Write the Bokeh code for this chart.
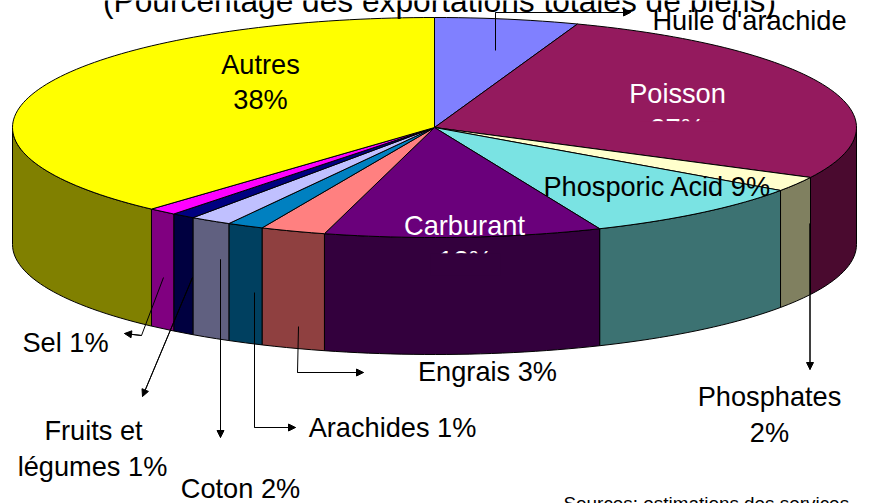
import numpy as np
from bokeh.embed import file_html
from bokeh.models import Arrow, NormalHead, Range1d
from bokeh.plotting import figure
from bokeh.resources import INLINE
from bokeh.core.properties import value

# Slices, clockwise from 12 o'clock
names = ["Huile d'arachide", "Poisson", "Phosphates", "Phosporic Acid", "Carburant",
         "Engrais", "Arachides", "Coton", "Fruits et légumes", "Sel", "Autres"]
shares = [5.5, 27.0, 2.2, 8.9, 10.6, 2.5, 1.4, 1.6, 0.9, 1.1, 38.3]
top_colors = ["#8080FF", "#941A5E", "#FFFFCC", "#7AE3E3", "#6A007B", "#FF8080",
              "#0080C0", "#C0C0FF", "#000080", "#FF00FF", "#FFFF00"]
side_colors = ["#404080", "#4A0A2F", "#808060", "#3C7272", "#33003D", "#8F4040",
               "#004060", "#606080", "#000040", "#800080", "#808000"]

labels_text = ["Autres", "38%", "Poisson", "Phosporic Acid 9%", "Carburant", "Huile d'arachide",
               "Sel 1%", "Fruits et", "légumes 1%", "Coton 2%", "Arachides 1%", "Engrais 3%",
               "Phosphates", "2%"]
labels_x = [260, 260, 677, 657, 464, 749, 65, 93, 92, 240, 392, 487, 769, 769]
labels_y = [64, 99, 93, 186, 225, 20, 342, 430, 466, 488, 427, 371, 396, 432]
labels_color = ["black", "black", "white", "black", "white", "black", "black", "black",
                "black", "black", "black", "black", "black", "black"]

CX, CY, RX, RY, DEPTH = 434, 127, 422, 110, 117
FONT = value("Liberation Sans")

p = figure(width=881, height=503, output_backend="svg", toolbar_location=None,
           x_range=Range1d(0, 881), y_range=Range1d(503, 0), x_axis_type=None, y_axis_type=None,
           min_border=0, outline_line_color=None, background_fill_color="white")
p.grid.visible = False

edges = np.concatenate([[0], np.cumsum(shares)]) / sum(shares) * 2 * np.pi


def rim(a, b):
    t = np.linspace(a, b, max(2, int((b - a) * 40)))
    return CX + RX * np.sin(t), CY - RY * np.cos(t)


# Walls of the front half
for i in range(len(shares)):
    a, b = max(edges[i], np.pi / 2), min(edges[i + 1], 3 * np.pi / 2)
    if a >= b:
        continue
    x, y = rim(a, b)
    p.patch(np.r_[x, x[::-1]], np.r_[y, y[::-1] + DEPTH],
            fill_color=side_colors[i], line_color="black", line_width=1)

# Top face
for i in range(len(shares)):
    x, y = rim(edges[i], edges[i + 1])
    p.patch(np.r_[CX, x], np.r_[CY, y], fill_color=top_colors[i], line_color="black", line_width=1)

SIZE = "27.2px"
# Second lines cut off in the original
p.text([677], [128], text=["27%"], text_color="white", text_font=FONT, text_font_size=SIZE,
       text_align="center", text_baseline="middle")
p.quad(left=[640], right=[715], top=[120.8], bottom=[142], fill_color="#941A5E", line_color=None)
p.text([465], [260], text=["12%"], text_color="white", text_font=FONT, text_font_size=SIZE,
       text_align="center", text_baseline="middle")
p.quad(left=[430], right=[500], top=[252.8], bottom=[275], fill_color="#33003D", line_color=None)

p.text(labels_x, labels_y, text=labels_text, text_color=labels_color, text_font=FONT,
       text_font_size=SIZE, text_align="center", text_baseline="middle")
p.text([439], [0], text=["(Pourcentage des exportations totales de biens)"], text_color="black",
       text_font=FONT, text_font_size="31.7px", text_align="center", text_baseline="middle")
p.text([563], [503], text=["Sources: estimations des services"], text_color="black",
       text_font=FONT, text_font_size="18.9px", text_align="left", text_baseline="middle")

# Leader lines
leaders = [([495, 495, 630], [50, 12, 12]),
           ([163, 141, 124], [277, 335, 333]),
           ([192, 142], [277, 396]),
           ([220, 220], [259, 437]),
           ([254, 254, 295], [292, 427, 427]),
           ([298, 297, 363], [326, 372, 372]),
           ([809.5, 809.5], [223, 369])]
for xs, ys in leaders:
    p.line(xs, ys, line_color="black", line_width=1)
    p.add_layout(Arrow(end=NormalHead(size=7, fill_color="black", line_color="black"),
                       x_start=xs[-2], y_start=ys[-2], x_end=xs[-1], y_end=ys[-1],
                       line_color="black", line_width=1))

open("out.html", "w").write(file_html(p, INLINE))
